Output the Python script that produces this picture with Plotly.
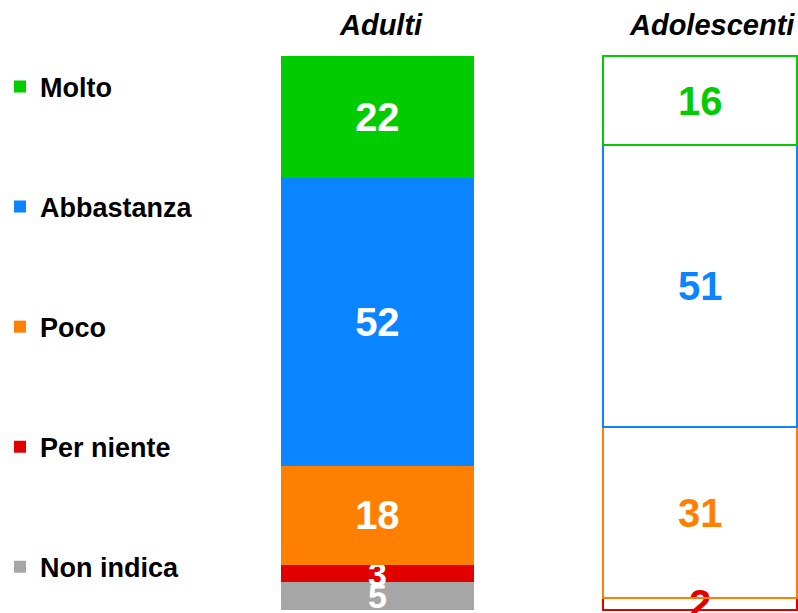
import plotly.graph_objects as go

groups = ["Adulti", "Adolescenti"]
series = ["Non indica", "Per niente", "Poco", "Abbastanza", "Molto"]
adulti = [5, 3, 18, 52, 22]
adolescenti = [None, 2, 31, 51, 16]
colors = {
    "Molto": "#00CC00",
    "Abbastanza": "#0A84FF",
    "Poco": "#FF8000",
    "Per niente": "#E00000",
    "Non indica": "#A6A6A6",
}
legend_rank = {"Molto": 1, "Abbastanza": 2, "Poco": 3, "Per niente": 4, "Non indica": 5}

xpos = [0, 1]
fig = go.Figure()
for i, s in enumerate(series):
    c = colors[s]
    vals = [adulti[i], adolescenti[i]]
    texts = [str(v) if v else "" for v in vals]
    small = adulti[i] is not None and adulti[i] < 8
    fig.add_trace(go.Bar(
        x=xpos, y=vals, name=s, text=texts,
        textposition="inside", insidetextanchor="middle",
        constraintext="none", textangle=0,
        textfont=dict(color=["white", c], size=[34 if small else 40, 40],
                      family="Liberation Sans", weight="bold"),
        marker=dict(color=[c, "rgba(255,255,255,0)"],
                    line=dict(color=[c, c], width=[0, 2])),
        width=0.6, legendgroup=s, legendrank=legend_rank[s],
        hoverinfo="skip",
    ))

for gx, g, dx in [(0, groups[0], 4), (1, groups[1], 12)]:
    fig.add_annotation(x=gx, y=1.0, xref="x", yref="paper", yanchor="middle",
                       yshift=25, xshift=dx,
                       text="<b><i>" + g + "</i></b>", showarrow=False,
                       font=dict(size=29, family="Liberation Sans", color="black"))

fig.update_layout(
    width=798, height=613,
    barmode="stack",
    margin=dict(l=0, r=0, t=50, b=0),
    paper_bgcolor="white", plot_bgcolor="white",
    xaxis=dict(range=[-1.169, 1.303], visible=False),
    yaxis=dict(range=[-0.63, 101.17], visible=False),
    showlegend=True,
    legend=dict(x=0, xanchor="left", y=0.978, yanchor="top",
                traceorder="grouped", tracegroupgap=82,
                font=dict(size=27, family="Liberation Sans", color="black", weight="bold"),
                bgcolor="rgba(0,0,0,0)"),
)

fig.write_html("out.html", config={"displayModeBar": False},
               post_script="document.body.style.margin='0';")
